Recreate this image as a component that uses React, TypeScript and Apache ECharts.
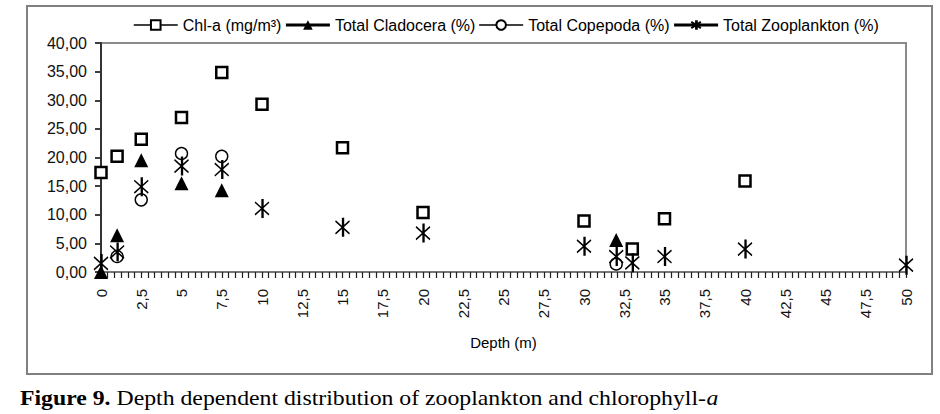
import React, { useEffect, useRef } from "react";
import * as echarts from "echarts";

const chlDepth = [0, 1, 2.5, 5, 7.5, 10, 15, 20, 30, 33, 35, 40];
const chlValues = [17.4, 20.2, 23.2, 27.0, 34.85, 29.3, 21.7, 10.4, 8.9, 4.0, 9.3, 15.9];

const cladDepth = [0, 1, 2.5, 5, 7.5, 32];
const cladValues = [0, 6.4, 19.5, 15.5, 14.3, 5.6];

const copeDepth = [1, 2.5, 5, 7.5, 32];
const copeValues = [2.7, 12.6, 20.7, 20.2, 1.4];

const zooDepth = [0, 1, 2.5, 5, 7.5, 10, 15, 20, 30, 32, 33, 35, 40, 50];
const zooValues = [1.5, 3.5, 14.9, 18.5, 17.9, 11.1, 7.8, 6.8, 4.5, 2.7, 1.6, 2.7, 4.0, 1.2];

const seriesNames = [
  "Chl-a (mg/m³)",
  "Total Cladocera (%)",
  "Total Copepoda (%)",
  "Total Zooplankton (%)",
];

const pairs = (xs: number[], ys: number[]) => xs.map((x, i) => [x, ys[i]]);

const STAR = "path://M0,3L12,15M12,3L0,15M6,0L6,18M6.9,0L6.9,18";

export default function App() {
  const ref = useRef<HTMLDivElement>(null);

  useEffect(() => {
    document.body.style.margin = "0";
    const chart = echarts.init(ref.current!, null, { renderer: "svg" });
    const font = "Liberation Sans, Arial, sans-serif";
    const serif = "Liberation Serif, Times New Roman, serif";
    const hidden = { opacity: 0, width: 0 };
    chart.setOption({
      animation: false,
      legend: {
        top: 12,
        left: 128,
        itemWidth: 44,
        itemHeight: 12,
        itemGap: 3,
        selectedMode: false,
        textStyle: { fontFamily: font, fontSize: 16, color: "#000" },
        data: [
          { name: seriesNames[0], lineStyle: { opacity: 1, width: 1.5, color: "#000" } },
          { name: seriesNames[1], lineStyle: { opacity: 1, width: 3, color: "#000" } },
          { name: seriesNames[2], lineStyle: { opacity: 1, width: 1.5, color: "#000" } },
          { name: seriesNames[3], lineStyle: { opacity: 1, width: 3, color: "#000" } },
        ],
      },
      grid: {
        left: 101,
        top: 43,
        width: 805,
        height: 229,
        show: true,
        borderColor: "#8a8a8a",
        borderWidth: 2,
      },
      xAxis: [
        {
          type: "value",
          min: 0,
          max: 50,
          interval: 2.5,
          position: "bottom",
          name: "Depth (m)",
          nameLocation: "middle",
          nameGap: 63,
          nameTextStyle: { fontFamily: font, fontSize: 15, color: "#000" },
          splitLine: { show: false },
          axisLine: { show: true, lineStyle: { color: "#777", width: 2 } },
          axisTick: { show: true, length: 6, lineStyle: { color: "#111", width: 1.2 } },
          minorTick: { show: true, splitNumber: 6, length: 6, lineStyle: { color: "#111", width: 1.2 } },
          axisLabel: {
            rotate: 90,
            margin: 17,
            fontFamily: font,
            fontSize: 15,
            color: "#111",
            formatter: (v: number) => String(v).replace(".", ","),
          },
        },
        {
          type: "value",
          min: 0,
          max: 50,
          interval: 2.5,
          position: "bottom",
          splitLine: { show: false },
          axisLine: { show: false },
          axisLabel: { show: false },
          axisTick: { show: true, length: 6, lineStyle: { color: "#222", width: 1 } },
          minorTick: { show: true, splitNumber: 6, length: 6, lineStyle: { color: "#222", width: 1 } },
        },
      ],
      yAxis: [
        {
          type: "value",
          min: 0,
          max: 40,
          interval: 5,
          position: "left",
          splitLine: { show: false },
          axisLine: { show: true, lineStyle: { color: "#333", width: 2 } },
          axisTick: { show: true, length: 6, lineStyle: { color: "#333", width: 1.5 } },
          axisLabel: {
            margin: 14,
            fontFamily: font,
            fontSize: 16,
            color: "#111",
            formatter: (v: number) => v.toFixed(2).replace(".", ","),
          },
        },
        {
          type: "value",
          min: 0,
          max: 40,
          interval: 5,
          position: "left",
          splitLine: { show: false },
          axisLine: { show: false },
          axisLabel: { show: false },
          axisTick: { show: true, length: 6, lineStyle: { color: "#333", width: 1.5 } },
        },
      ],
      series: [
        {
          name: seriesNames[0],
          type: "line",
          data: pairs(chlDepth, chlValues),
          symbol: "rect",
          symbolSize: 11,
          showAllSymbol: true,
          lineStyle: hidden,
          itemStyle: { color: "#fff", borderColor: "#000", borderWidth: 2.5 },
          silent: true,
        },
        {
          name: seriesNames[1],
          type: "line",
          data: pairs(cladDepth, cladValues),
          symbol: "triangle",
          symbolSize: [14, 14],
          showAllSymbol: true,
          lineStyle: hidden,
          itemStyle: { color: "#000", borderColor: "#000", borderWidth: 0 },
          silent: true,
        },
        {
          name: seriesNames[2],
          type: "line",
          data: pairs(copeDepth, copeValues),
          symbol: "circle",
          symbolSize: 12,
          showAllSymbol: true,
          lineStyle: hidden,
          itemStyle: { color: "#fff", borderColor: "#000", borderWidth: 1.4 },
          silent: true,
        },
        {
          name: seriesNames[3],
          type: "line",
          data: pairs(zooDepth, zooValues),
          symbol: STAR,
          symbolSize: [14, 19],
          showAllSymbol: true,
          lineStyle: hidden,
          itemStyle: { color: "rgba(0,0,0,0)", borderColor: "#000", borderWidth: 1.5 },
          silent: true,
        },
      ],
      graphic: [
        {
          type: "rect",
          shape: { x: 27, y: 6, width: 905, height: 368 },
          style: { fill: "transparent", stroke: "#808080", lineWidth: 2 },
          silent: true,
        },
        {
          type: "text",
          x: 20,
          y: 398,
          scaleX: 1.08,
          style: {
            text: "{b|Figure 9.}{n| Depth dependent distribution of zooplankton and chlorophyll-}{i|a}",
            verticalAlign: "middle",
            rich: {
              b: { fontFamily: serif, fontSize: 22, fontWeight: "bold", fill: "#000" },
              n: { fontFamily: serif, fontSize: 22, fill: "#000" },
              i: { fontFamily: serif, fontSize: 22, fontStyle: "italic", fill: "#000" },
            },
          },
          silent: true,
        },
      ],
    });
    return () => chart.dispose();
  }, []);

  return <div ref={ref} style={{ width: 940, height: 414, background: "#fff" }} />;
}
